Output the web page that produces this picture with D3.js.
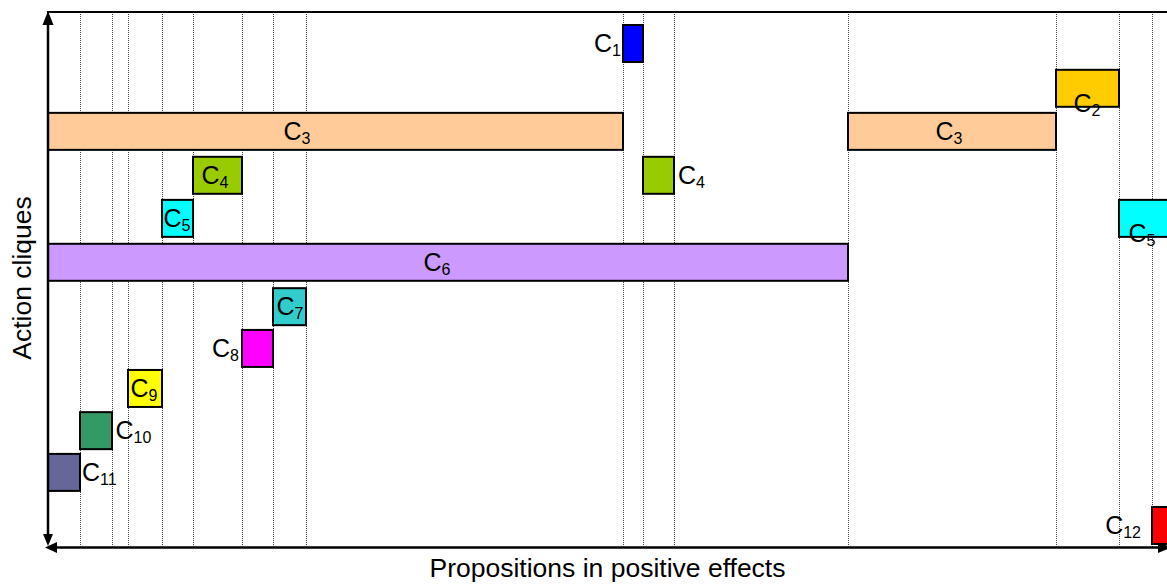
<!DOCTYPE html>
<html>
<head>
<meta charset="utf-8">
<script src="https://cdn.jsdelivr.net/npm/d3@7"></script>
<style>
  html, body { margin: 0; padding: 0; background: #fff; }
  svg { display: block; font-family: "Liberation Sans", Arial, sans-serif; }
</style>
</head>
<body>
<svg id="chart" width="1167" height="585"></svg>
<script>
// ---- data (x in proposition units, y in clique levels) ----
const cliqueNum  = [1, 2, 3, 3, 4, 4, 5, 5, 6, 7, 8, 9, 10, 11, 12];
const propStart  = [575, 1008, 0, 800, 145, 595, 114, 1071, 0, 225, 194, 80, 32, 0, 1104];
const propEnd    = [595, 1071, 575, 1008, 194, 626, 145, 1130, 800, 258, 225, 114, 64, 32, 1130];
const level      = [0, 1.03, 2.02, 2.02, 3.03, 3.03, 4.02, 4.02, 5.03, 6.05, 7.01, 7.93, 8.9, 9.86, 11.08];
const labelAt    = [573, 1039, 249, 901, 167, 630, 129, 1094, 389, 242, 191, 96, 67.5, 34, 1093];
const labelSide  = ["end","middle","middle","middle","middle","start","middle","middle","middle","middle","end","middle","start","start","end"];
const labelLow   = [0, 1, 0, 0, 0, 0, 0, 1, 0, 0, 0, 0, 0, 0, 0];
const propBounds = [32, 64, 80, 114, 145, 194, 225, 258, 575, 595, 626, 800, 1008, 1071, 1104];
const cliqueColors = ["#0000FF","#FFCC00","#FFCC99","#99CC00","#00FFFF","#CC99FF",
                      "#33CCCC","#FF00FF","#FFFF00","#339966","#666699","#FF0000"];
const xTitle = "Propositions in positive effects";
const yTitle = "Action cliques";

// ---- drawing ----
const svg = d3.select("#chart");
const x = d3.scaleLinear().domain([0, 1120]).range([48, 1168]);
const y = d3.scaleLinear().domain([0, 12]).range([25, 547]);
const barH = 37;
const yTop = 12, yBottom = 547.5, xLeft = 48;

const items = cliqueNum.map((c, i) => ({
  c, x0: propStart[i], x1: propEnd[i], lv: level[i],
  lx: labelAt[i], side: labelSide[i], low: labelLow[i]
}));

// dotted grid lines
svg.append("g").selectAll("line").data(propBounds).join("line")
  .attr("x1", d => Math.round(x(d)) + 0.5).attr("x2", d => Math.round(x(d)) + 0.5)
  .attr("y1", yTop).attr("y2", yBottom)
  .attr("stroke", "#444").attr("stroke-width", 1).attr("stroke-dasharray", "1,1");

// top border
svg.append("line").attr("x1", xLeft - 1).attr("x2", 1167).attr("y1", yTop).attr("y2", yTop)
  .attr("stroke", "#000").attr("stroke-width", 2);

// right arrow of x axis (mostly cut off)
svg.append("path").attr("d", `M1171,${yBottom} L1158,${yBottom-5.5} L1158,${yBottom+5.5} Z`).attr("fill", "#000");

// bars
svg.append("g").selectAll("rect").data(items).join("rect")
  .attr("x", d => x(d.x0)).attr("width", d => x(d.x1) - x(d.x0))
  .attr("y", d => y(d.lv)).attr("height", barH)
  .attr("fill", d => cliqueColors[d.c - 1])
  .attr("stroke", "#000").attr("stroke-width", 2);

// axes
svg.append("line").attr("x1", xLeft).attr("x2", xLeft).attr("y1", 20).attr("y2", 538)
  .attr("stroke", "#000").attr("stroke-width", 2.5);
svg.append("line").attr("x1", 52).attr("x2", 1167).attr("y1", yBottom).attr("y2", yBottom)
  .attr("stroke", "#000").attr("stroke-width", 2.7);
svg.append("path").attr("d", `M${xLeft},11 L${xLeft-5.5},25 L${xLeft+5.5},25 Z`).attr("fill", "#000");
svg.append("path").attr("d", `M${xLeft},546 L${xLeft-5},534 L${xLeft+5},534 Z`).attr("fill", "#000");
svg.append("path").attr("d", `M45,${yBottom} L57,${yBottom-5.5} L57,${yBottom+5.5} Z`).attr("fill", "#000");

// labels
const lab = svg.append("g").selectAll("text").data(items).join("text")
  .attr("x", d => x(d.lx))
  .attr("y", d => y(d.lv) + 27 + (d.low ? 15 : 0))
  .attr("text-anchor", d => d.side)
  .attr("font-size", 25).attr("fill", "#000");
lab.append("tspan").text("C");
lab.append("tspan").attr("font-size", 16).attr("dy", 4).text(d => d.c);

// axis titles
svg.append("text").attr("x", 607.5).attr("y", 577).attr("text-anchor", "middle")
  .attr("font-size", 26.5).text(xTitle);
svg.append("text").attr("transform", "translate(31,278) rotate(-90)").attr("text-anchor", "middle")
  .attr("font-size", 26.5).text(yTitle);
</script>
</body>
</html>
